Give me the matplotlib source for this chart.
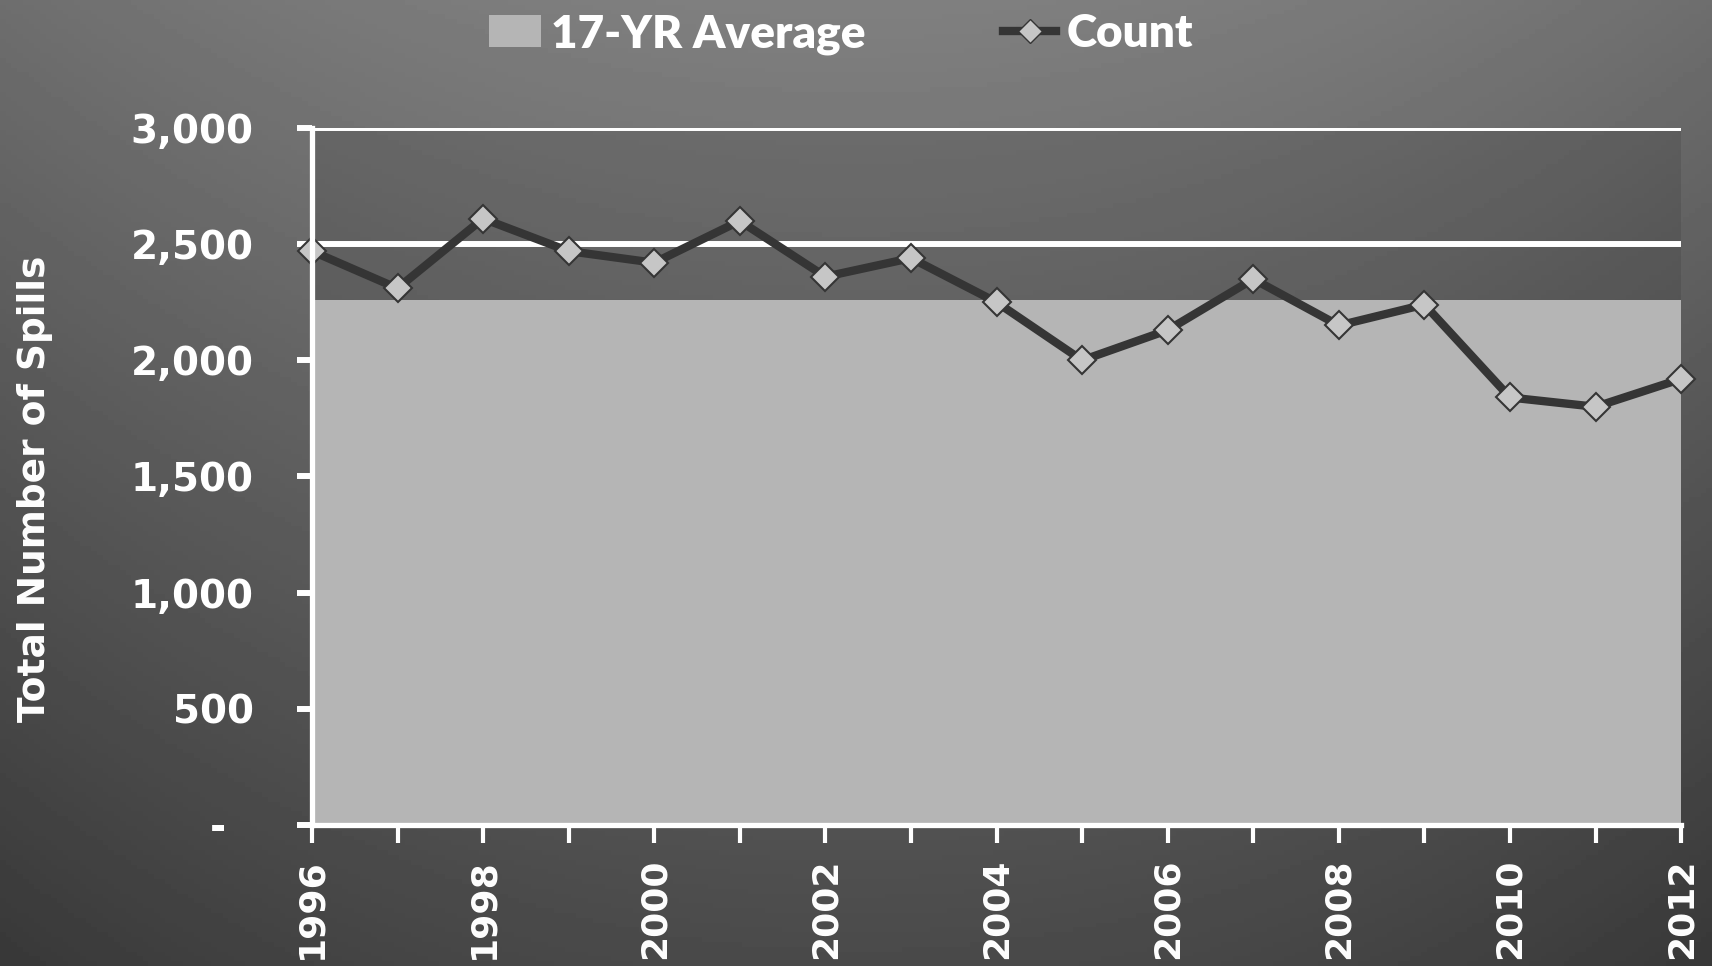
import numpy as np
import matplotlib
matplotlib.use("Agg")
import matplotlib.pyplot as plt
from matplotlib.patches import Patch
from matplotlib.lines import Line2D
from matplotlib.ticker import FixedLocator

years = [1996, 1997, 1998, 1999, 2000, 2001, 2002, 2003, 2004,
         2005, 2006, 2007, 2008, 2009, 2010, 2011, 2012]
count = [2470, 2310, 2610, 2470, 2420, 2600, 2360, 2440, 2250,
         2000, 2130, 2350, 2150, 2240, 1840, 1800, 1920]
average = [2260] * 17
y_ticks = [0, 500, 1000, 1500, 2000, 2500, 3000]
y_tick_labels = ["-  ", "500", "1,000", "1,500", "2,000", "2,500", "3,000"]
x_tick_label_years = [1996, 1998, 2000, 2002, 2004, 2006, 2008, 2010, 2012]
legend_labels = ["17-YR Average", "Count"]
y_label = "Total Number of Spills"

AREA = "#b5b5b5"
LINE = "#353535"
MFACE = "#c6c6c6"

fig = plt.figure(figsize=(17.12, 9.66), dpi=100)

# gradient background
bg = fig.add_axes([0, 0, 1, 1], zorder=-10)
yy = np.linspace(0, 1, 200)[:, None]
xx = np.linspace(-1, 1, 300)[None, :]
grad = 0.50 - 0.21 * yy - 0.07 * xx ** 2
bg.imshow(grad, cmap="gray", vmin=0, vmax=1, aspect="auto",
          extent=[0, 1, 0, 1], origin="upper")
bg.set_axis_off()

ax = fig.add_axes([0.1822, 0.146, 0.7998, 0.7215])
ax.patch.set_facecolor("black")
ax.patch.set_alpha(0.1)

# white gridlines (below area)
for v in y_ticks[1:]:
    ax.axhline(v, color="white", lw=4.3, zorder=1)

ax.fill_between(years, 0, average, color=AREA, zorder=2, lw=0)
ax.plot(years, count, color=LINE, lw=6, marker="D", markersize=14,
        markerfacecolor=MFACE, markeredgecolor=LINE,
        markeredgewidth=1.5, zorder=4, clip_on=False)

ax.set_xlim(1996, 2012)
ax.set_ylim(0, 3000)

ax.xaxis.set_major_locator(FixedLocator(x_tick_label_years))
ax.xaxis.set_minor_locator(FixedLocator(years))
ax.set_xticklabels([str(y) for y in x_tick_label_years], rotation=90,
                   fontsize=26, fontweight="bold", color="white",
                   family="DejaVu Sans")
ax.set_yticks(y_ticks)
ax.set_yticklabels(y_tick_labels, fontsize=28, fontweight="bold",
                   color="white", family="DejaVu Sans")

ax.tick_params(axis="x", which="both", direction="out", length=13,
               width=3, color="white", pad=11)
ax.tick_params(axis="y", direction="out", length=11, width=4.3,
               color="white", pad=31)

for s in ["top", "right"]:
    ax.spines[s].set_visible(False)
for s in ["left", "bottom"]:
    ax.spines[s].set_color("white")
    ax.spines[s].set_linewidth(3.8)
    ax.spines[s].set_zorder(5)

ax.set_ylabel(y_label, fontsize=27, fontweight="bold", color="white",
              family="DejaVu Sans")
ax.yaxis.set_label_coords(-0.189, 0.482)

handles = [
    Patch(facecolor=AREA, edgecolor="none"),
    Line2D([0], [0], color=LINE, lw=6, marker="D", markersize=12,
           markerfacecolor=MFACE, markeredgecolor=LINE),
]
leg = fig.legend(handles, legend_labels, loc="center",
                 bbox_to_anchor=(0.491, 0.965), ncol=2, frameon=False,
                 prop={"family": "Lato", "weight": "heavy", "size": 33},
                 columnspacing=3.0, handlelength=1.15, handletextpad=0.22,
                 borderpad=0.0)
for t in leg.get_texts():
    t.set_color("white")

fig.savefig("out.png", dpi=100)
